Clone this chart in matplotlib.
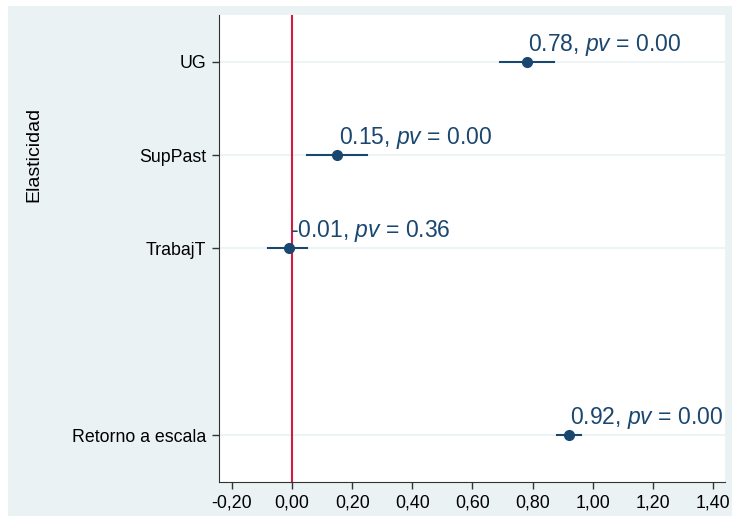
import matplotlib
matplotlib.use('Agg')
import matplotlib.pyplot as plt

plt.rcParams['font.family'] = ['Liberation Sans', 'DejaVu Sans']
plt.rcParams['mathtext.fontset'] = 'custom'
plt.rcParams['mathtext.rm'] = 'Liberation Sans'
plt.rcParams['mathtext.it'] = 'Liberation Sans:italic'

# Coefficient estimates and 95% intervals
labels = ['UG', 'SupPast', 'TrabajT', 'Retorno a escala']
positions = [1, 2, 3, 5]
coef = [0.78, 0.15, -0.01, 0.92]
ci_low = [0.69, 0.05, -0.08, 0.88]
ci_high = [0.87, 0.25, 0.05, 0.96]
pvals = [0.00, 0.00, 0.36, 0.00]
xticks = [-0.2, 0.0, 0.2, 0.4, 0.6, 0.8, 1.0, 1.2, 1.4]
xticklabels = ['-0,20', '0,00', '0,20', '0,40', '0,60', '0,80', '1,00', '1,20', '1,40']

navy = '#1a476f'
bg = '#eaf2f3'

fig = plt.figure(figsize=(7.32, 5.16), dpi=100)

# outer graph region (light background)
bgax = fig.add_axes([8 / 732, 0, 1 - 8 / 732, 510 / 516], zorder=-1)
bgax.set_facecolor(bg)
bgax.set_xticks([])
bgax.set_yticks([])
for s in bgax.spines.values():
    s.set_visible(False)

ax = fig.add_axes([219 / 732, 34 / 516, 506 / 732, 467 / 516])
ax.set_facecolor('white')

for y in positions:
    ax.axhline(y, color=bg, lw=1.2, zorder=1)
ax.axvline(0, color='#d01c45', lw=1.5, zorder=2)

for y, c, lo, hi, p in zip(positions, coef, ci_low, ci_high, pvals):
    ax.plot([lo, hi], [y, y], color=navy, lw=1.5, zorder=3)
    ax.plot(c, y, 'o', color=navy, ms=7, zorder=4)
    ax.annotate(f'{c:.2f}, $\\it{{pv}}$ = {p:.2f}', (c, y), xytext=(1, 3),
                textcoords='offset points', ha='left', va='bottom',
                fontsize=16.5, color=navy)

ax.set_xlim(-0.243, 1.44)
ax.set_ylim(5.5, 0.5)
ax.set_xticks(xticks)
ax.set_xticklabels(xticklabels, fontsize=12.8)
ax.set_yticks(positions)
ax.set_yticklabels(labels, fontsize=12.8)
ax.tick_params(axis='both', direction='out', length=5, width=1, color='#333333', pad=4)
ax.spines['top'].set_visible(False)
ax.spines['right'].set_visible(False)
ax.spines['left'].set_color('#333333')
ax.spines['bottom'].set_color('#333333')
ax.set_ylabel('Elasticidad', fontsize=14)
ax.yaxis.set_label_coords(-0.35, 0.702)

fig.savefig('out.png', dpi=100)
